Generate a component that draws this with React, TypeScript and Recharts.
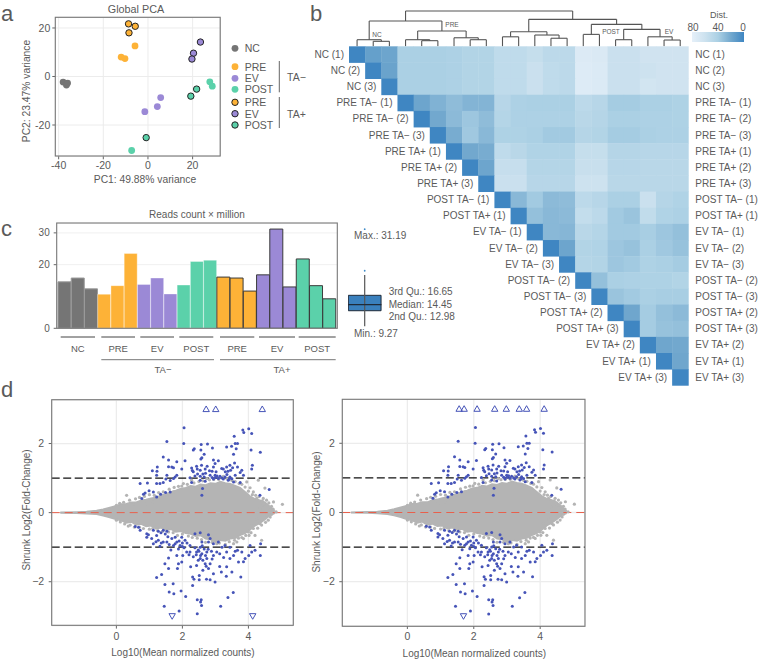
import React from 'react'
import {
  Area,
  Bar,
  BarChart,
  CartesianGrid,
  Cell,
  ComposedChart,
  ReferenceArea,
  ReferenceLine,
  Scatter,
  ScatterChart,
  XAxis,
  YAxis,
} from 'recharts'

const FONT = '"Liberation Sans", Arial, sans-serif'
const INK = '#5a5a5a'
const GRID = '#ececec'
const COLORS: Record<string, string> = { NC: '#757575', PRE: '#fdb237', EV: '#9b89d6', POST: '#5bd1aa' }
const BLUE = '#4654b8'

// a: PCA
const pcaNC = [[-38, -2.3], [-36.5, -3.5], [-36, -2.7]]
const pcaPreMinus = [[-12, 8], [-10.3, 7.4], [-5.8, 12.6]]
const pcaEvMinus = [[-1.4, -14.5], [4.2, -12.4], [5.7, -8.7]]
const pcaPostMinus = [[-7.3, -30.5], [27.7, -2.2], [28.8, -4]]
const pcaPrePlus = [[-8.7, 21.7], [-5.7, 20.7], [-8.5, 18]]
const pcaEvPlus = [[23.5, 14.2], [20.4, 9.6], [19.7, 7.2]]
const pcaPostPlus = [[-0.8, -25.2], [21.8, -5.2], [19.2, -8.1]]

// b: distance heatmap, upper triangle, one row per sample
const sampleLabels = [
  'NC (1)', 'NC (2)', 'NC (3)',
  'PRE TA− (1)', 'PRE TA− (2)', 'PRE TA− (3)',
  'PRE TA+ (1)', 'PRE TA+ (2)', 'PRE TA+ (3)',
  'POST TA− (1)', 'POST TA+ (1)',
  'EV TA− (1)', 'EV TA− (2)', 'EV TA− (3)',
  'POST TA− (2)', 'POST TA− (3)',
  'POST TA+ (2)', 'POST TA+ (3)',
  'EV TA+ (2)', 'EV TA+ (1)', 'EV TA+ (3)',
]
const distances = [
  [0, 15, 18, 40, 40, 40, 41, 44, 44, 52, 52, 55, 50, 50, 72, 70, 58, 58, 62, 62, 62],
  [0, 17, 40, 40, 40, 41, 44, 44, 52, 52, 58, 52, 50, 73, 71, 58, 58, 60, 62, 62],
  [0, 40, 40, 40, 41, 44, 44, 52, 52, 58, 52, 50, 73, 71, 58, 58, 64, 62, 62],
  [0, 18, 25, 30, 26, 26, 47, 41, 40, 40, 40, 50, 47, 38, 38, 40, 40, 42],
  [0, 20, 29, 35, 30, 45, 41, 41, 41, 41, 48, 46, 40, 40, 41, 41, 42],
  [0, 22, 36, 28, 42, 42, 40, 37, 37, 46, 44, 38, 38, 40, 41, 41],
  [0, 20, 22, 52, 48, 43, 43, 43, 55, 55, 46, 46, 47, 47, 47],
  [0, 18, 56, 56, 45, 45, 45, 57, 57, 47, 47, 48, 48, 48],
  [0, 58, 58, 47, 47, 47, 60, 60, 48, 48, 48, 48, 48],
  [0, 28, 37, 29, 30, 50, 47, 40, 40, 58, 46, 43],
  [0, 32, 28, 29, 54, 50, 37, 34, 53, 43, 41],
  [0, 28, 27, 48, 45, 37, 37, 39, 35, 32],
  [0, 18, 44, 43, 35, 33, 40, 36, 33],
  [0, 45, 44, 35, 37, 42, 40, 38],
  [0, 32, 40, 41, 42, 42, 44],
  [0, 34, 37, 40, 39, 39],
  [0, 19, 38, 32, 29],
  [0, 38, 33, 32],
  [0, 19, 20],
  [0, 19],
  [0],
]
// nested [left, right, height]; a plain number is a leaf
const dendrogram = [
  [[0, [1, 2, 0.31], 0.41], [[3, [4, 5, 0.35], 0.41], [6, [7, 8, 0.41], 0.53], 0.95], 1.57],
  [
    [[9, 10, 0.59], [11, [12, 13, 0.5], 0.7], 0.9],
    [[14, 15, 0.74], [[16, 17, 0.41], [18, [19, 20, 0.39], 0.59], 1.05], 1.36],
    1.67,
  ],
  2.19,
]

// c: reads
const readGroups = [
  'NC', 'NC', 'NC', 'PRE', 'PRE', 'PRE', 'EV', 'EV', 'EV', 'POST', 'POST', 'POST',
  'PRE', 'PRE', 'PRE', 'EV', 'EV', 'EV', 'POST', 'POST', 'POST',
]
const readValues = [
  14.6, 15.8, 12.4, 10.7, 13.4, 23.5, 13.8, 15.8, 10.8, 13.6, 21, 21.4,
  16.1, 15.8, 11.7, 16.8, 31.19, 13, 21.8, 13.4, 9.27,
]
const boxStats = { min: 9.27, q1: 12.98, median: 14.45, q3: 16.65, whisker: 21.5 }
const boxOutliers = [22.5, 32.4]

// d: MA plots, shared gene cloud: [x, lower, upper] outline of the dense part
const cloudOutline = [
  [-1.7, -0.01, 0.01], [-1.2, -0.015, 0.02], [-0.9, -0.03, 0.03], [-0.6, -0.05, 0.06], [-0.4, -0.09, 0.1],
  [-0.2, -0.14, 0.15], [0, -0.2, 0.2], [0.15, -0.23, 0.25], [0.3, -0.3, 0.26], [0.45, -0.27, 0.3],
  [0.6, -0.36, 0.3], [0.75, -0.33, 0.36], [0.9, -0.4, 0.38], [1.05, -0.38, 0.42], [1.2, -0.47, 0.44],
  [1.35, -0.44, 0.5], [1.5, -0.5, 0.54], [1.65, -0.48, 0.6], [1.8, -0.56, 0.64], [1.95, -0.54, 0.7],
  [2.1, -0.6, 0.72], [2.25, -0.62, 0.78], [2.4, -0.68, 0.76], [2.55, -0.66, 0.82], [2.7, -0.76, 0.8],
  [2.85, -0.78, 0.86], [3, -0.86, 0.84], [3.15, -0.8, 0.9], [3.3, -0.82, 0.86], [3.45, -0.76, 0.84],
  [3.6, -0.74, 0.78], [3.75, -0.66, 0.72], [3.9, -0.6, 0.6], [4.05, -0.5, 0.48], [4.2, -0.38, 0.4],
  [4.35, -0.3, 0.36], [4.5, -0.2, 0.3], [4.65, -0.08, 0.18], [4.8, -0.02, 0.04],
]
const greyGenes = [
  [5.03, 0.24], [4.84, 0.02], [4.76, 0.31], [4.5, 0.71], [4.3, 0.94], [3.95, 0.89], [0.31, 0.5], [0.36, -0.39],
  [4.35, 0.12], [4.66, 0.07], [4.55, 0.21], [4.45, 0.41], [4.25, 0.41], [4.66, -0.13], [4.6, -0.22], [4.5, -0.08],
  [4.15, -0.46], [4.2, -0.66], [4, -0.56], [4.4, -0.8], [4.1, -0.32], [4.35, -0.32], [3.85, -0.75], [3.65, -0.85],
  [3.55, -0.9], [3.04, -0.9], [2.28, 0.94], [2.03, 0.84], [1.98, 0.77], [2.74, 0.98], [3.24, 1.05], [1.53, 0.5],
  [1.73, 0.6], [1.12, 0.31], [0.92, 0.26], [0.52, 0.26], [0.62, -0.22], [0, 0.21], [0, -0.22], [3.6, 0.9],
  [3.8, 0.82], [4.05, 0.72], [4.15, 0.6], [3.35, 0.98], [2.95, 0.96], [2.5, 0.9], [3.3, -0.92], [3.8, -0.72],
  [4.02, -0.66], [2.7, -0.86], [2.3, -0.72], [1.85, -0.66], [1.4, -0.54], [1.0, -0.48], [0.7, -0.42],
  [0.1, 0.27], [0.22, 0.3], [0.4, 0.36], [0.58, 0.4], [0.7, 0.44], [0.85, 0.47], [1.0, 0.52], [1.15, 0.5], [1.28, 0.58],
  [1.42, 0.6], [1.6, 0.68], [1.75, 0.73], [1.88, 0.76], [2.15, 0.82], [2.35, 0.86], [2.62, 0.92], [2.82, 0.95],
  [3.1, 0.96], [3.5, 0.93], [3.72, 0.84], [3.9, 0.74], [4.0, 0.62], [4.12, 0.52], [4.22, 0.5], [4.32, 0.46], [4.42, 0.34],
  [4.55, 0.36], [4.62, 0.28], [4.7, 0.18], [4.4, 0.2], [4.75, 0.1], [0.12, -0.27], [0.25, -0.33], [0.42, -0.36],
  [0.55, -0.42], [0.82, -0.46], [1.1, -0.46], [1.25, -0.52], [1.58, -0.56], [1.72, -0.58], [2.0, -0.62], [2.18, -0.68],
  [2.45, -0.74], [2.58, -0.78], [2.9, -0.86], [3.12, -0.88], [3.42, -0.84], [3.58, -0.8], [3.7, -0.74], [3.92, -0.66],
  [4.08, -0.58], [4.28, -0.45], [4.4, -0.36], [4.52, -0.28], [4.25, -0.18], [4.7, -0.05],
]
const blueGenes = [
  [2.05, 2.46], [1.53, 2.06], [2.04, 2], [1.42, 1.61], [1.58, 1.52], [1.68, 1.32], [1.58, 1.33], [1.73, 1.3],
  [1.83, 1.47], [2.08, 1.5], [1.98, 1.26], [1.78, 1.03], [1.24, 1.32], [1.09, 1.21], [1.23, 1.2], [1.22, 1.08],
  [1.53, 1.08], [1.83, 1.08], [1.73, 0.99], [1.63, 0.93], [1.5, 0.97], [1.42, 0.87], [1.32, 0.84], [1.22, 0.84],
  [0.94, 0.86], [0.72, 0.84], [0.87, 0.57], [0.82, 0.53], [0.99, 0.63], [1.12, 0.6], [1.34, 0.53], [1.49, 0.58],
  [1.63, 0.6], [1.22, 0.45], [0.77, 0.41], [2.33, 1.81], [2.36, 1.85], [2.57, 1.97], [2.76, 1.99], [2.91, 1.87],
  [2.56, 1.81], [2.59, 1.59], [2.66, 1.69], [2.56, 1.55], [2.94, 1.52], [3.09, 1.5], [2.99, 1.42], [2.94, 1.32],
  [3.19, 1.28], [2.28, 1.29], [2.43, 1.34], [2.58, 1.37], [2.33, 1.18], [2.54, 1.23], [2.69, 1.26], [2.82, 1.21],
  [2.23, 1.01], [2.38, 1.06], [2.54, 1.05], [2.66, 1.03], [2.84, 1.08], [2.99, 1.08], [3.14, 1.05], [3.29, 1.03],
  [3.44, 1.03], [3.6, 1.08], [2.54, 0.94], [2.69, 0.91], [2.94, 0.97], [3.09, 0.99], [3.24, 0.97], [3.39, 0.94],
  [3.55, 0.89], [3.75, 0.87], [2.28, 0.87], [2.61, 0.7], [2.59, 0.5], [3.34, 1.9], [3.49, 1.92], [3.6, 2],
  [3.67, 2], [3.63, 1.85], [3.57, 2.21], [3.55, 1.69], [3.83, 2.39], [3.86, 2.32], [4.01, 2.43], [4.1, 2.29],
  [4.08, 1.81], [4.36, 1.75], [4.12, 1.37], [4.1, 1.26], [3.8, 1.23], [3.85, 1.08], [3.44, 1.37], [3.58, 1.44],
  [3.34, 1.32], [3.24, 1.26], [3.46, 1.23], [3.67, 1.32], [3.75, 1.16], [4.63, 0.67], [4.35, 0.5],
  [2.9, 1.02], [3.0, 1.02], [3.05, 1.06], [3.2, 1.0], [3.35, 1.1], [3.5, 0.98], [3.38, 1.2], [3.52, 1.3], [3.3, 1.18],
  [2.46, 1.12], [2.62, 1.12], [2.7, 1.14], [2.45, 1.26], [2.3, 1.22], [2.75, 1.34], [2.9, 1.2], [3.02, 1.18], [3.42, 0.97],
  [0.57, -0.4], [0.67, -0.42], [0.72, -0.51], [0.92, -0.61], [0.97, -0.64], [1.12, -0.51], [1.27, -0.54], [1.42, -0.51],
  [1.53, -0.54], [1.07, -0.75], [1.27, -0.8], [1.42, -0.85], [1.53, -0.85], [1.68, -0.75], [1.78, -0.71], [1.98, -0.71],
  [2.08, -0.8], [1.83, -0.85], [1.73, -0.95], [1.93, -0.95], [1.22, -0.66], [1.32, -0.97], [1.12, -0.9], [0.92, -0.71],
  [1.58, -1.31], [1.98, -1.43], [1.88, -1.48], [1.85, -1.62], [1.58, -1.62], [1.47, -1.48], [1.37, -1.79], [1.22, -1.88],
  [2.01, -1.24], [2.13, -1.14], [1.83, -1.24], [1.47, -2.08], [1.72, -2.06], [1.6, -2.3], [1.74, -2.35], [1.96, -2.27],
  [2.1, -2.43], [1.45, -2.71], [1.9, -2.85], [2.45, -2.93], [2.45, -2.52], [2.57, -2.52], [2.55, -2.59], [2.58, -2.69],
  [3.16, -2.71], [3.38, -2.46], [3.54, -2.31], [2.31, -1.86], [2.35, -1.93], [2.51, -1.82], [2.51, -1.94], [2.31, -2.11],
  [2.73, -1.93], [2.84, -1.94], [2.99, -2.01], [3.77, -1.86], [3.33, -1.84], [3.18, -1.72], [2.94, -1.77], [2.25, -1.57],
  [2.43, -1.53], [2.62, -1.67], [2.79, -1.62], [3.13, -1.56], [3.34, -1.57], [3.5, -1.72], [2.23, -0.95], [2.38, -1.02],
  [2.54, -1], [2.43, -1.14], [2.59, -1.19], [2.74, -1.14], [2.33, -1.28], [2.54, -1.33], [2.74, -1.33], [2.84, -1.48],
  [2.69, -1.48], [2.94, -0.9], [3.04, -1.14], [3.13, -1.19], [2.94, -1.24], [3.34, -1.14], [3.44, -1.33], [3.55, -1.24],
  [3.7, -1.43], [3.44, -1], [3.67, -1.09], [3.9, -1.33], [4.01, -1.24], [4.1, -1.14], [4.2, -1.09], [4.36, -1.24],
  [4.05, -0.95], [4.37, -0.9], [3.8, -1.14], [3.29, -0.95], [3.09, -0.85], [2.79, -0.85], [2.59, -0.85], [2.38, -0.61],
  [2.54, -0.58], [2.79, -0.64], [2.84, -0.75], [2.23, -1.14], [2.62, -1.38], [2.48, -1.08], [2.66, -1.05], [2.88, -1.12],
  [2.2, -1.22], [2.42, -1.22], [1.65, -1.08], [2.0, -0.98], [2.14, -0.88],
  [1.35, -0.58], [1.48, -0.62], [1.56, -0.7], [1.2, -0.84], [1.36, -0.88], [1.6, -0.92], [1.78, -0.9], [1.9, -0.82],
  [2.0, -0.88], [2.05, -1.02], [1.88, -1.05], [2.5, -1.12], [2.55, -1.24], [2.7, -1.24], [2.78, -1.06], [2.6, -0.96],
  [2.9, -1.34], [2.72, -1.55], [2.48, -1.38], [3.2, -1.0], [3.25, -1.3], [3.6, -1.12], [3.85, -1.42],
]
const upLeft = [2.72, 3.01, 4.42]
const downLeft = [1.69, 4.13]
const upRight = [1.56, 1.71, 2.1, 2.63, 2.98, 3.37, 3.59, 4.12]
const downRight = [1.69]

const CELL = 16.16
const tickStyle = { fontSize: 10.5, fill: INK, fontFamily: FONT }

function heatColor(d: number) {
  const stops = [
    [0, 63, 134, 194],
    [20, 114, 168, 206],
    [40, 171, 208, 228],
    [60, 205, 226, 239],
    [80, 230, 240, 249],
  ]
  for (let i = 1; i < stops.length; i++) {
    if (d <= stops[i][0]) {
      const a = stops[i - 1]
      const b = stops[i]
      const t = (d - a[0]) / (b[0] - a[0])
      return `rgb(${[1, 2, 3].map((k) => Math.round(a[k] + (b[k] - a[k]) * t)).join(',')})`
    }
  }
  return 'rgb(230,240,249)'
}

const xy = (pts: number[][]) => pts.map(([x, y]) => ({ x, y }))

function PcaDots({ pts, color, ring }: { pts: number[][]; color: string; ring?: boolean }) {
  return (
    <Scatter
      data={xy(pts)}
      fill={color}
      isAnimationActive={false}
      shape={(p: any) => (
        <circle cx={p.cx} cy={p.cy} r={ring ? 3.2 : 3.4} fill={color} stroke={ring ? '#222' : 'none'} strokeWidth={1} />
      )}
    />
  )
}

function PcaChart() {
  return (
    <div style={{ position: 'absolute', left: 0, top: 0 }}>
      <ScatterChart width={226} height={175} margin={{ top: 17.3, right: 5.7, bottom: 0, left: 0 }}>
        <CartesianGrid stroke={GRID} />
        <XAxis type="number" dataKey="x" domain={[-41.5, 32.4]} ticks={[-40, -20, 0, 20]} tick={tickStyle} height={18.7} tickSize={3} tickMargin={2} stroke="#666" axisLine={false} />
        <YAxis type="number" dataKey="y" domain={[-32.9, 24.4]} ticks={[-20, 0, 20]} tick={tickStyle} width={55.3} tickSize={3} tickMargin={2} stroke="#666" axisLine={false} />
        <PcaDots pts={pcaNC} color={COLORS.NC} />
        <PcaDots pts={pcaPreMinus} color={COLORS.PRE} />
        <PcaDots pts={pcaEvMinus} color={COLORS.EV} />
        <PcaDots pts={pcaPostMinus} color={COLORS.POST} />
        <PcaDots pts={pcaPrePlus} color={COLORS.PRE} ring />
        <PcaDots pts={pcaEvPlus} color={COLORS.EV} ring />
        <PcaDots pts={pcaPostPlus} color={COLORS.POST} ring />
      </ScatterChart>
    </div>
  )
}

function dendroLines(node: any, out: number[][]): { x: number; h: number } {
  if (typeof node === 'number') return { x: node + 0.5, h: 0 }
  const a = dendroLines(node[0], out)
  const b = dendroLines(node[1], out)
  const h = node[2]
  out.push([a.x, a.h, a.x, h], [b.x, b.h, b.x, h], [a.x, h, b.x, h])
  return { x: (a.x + b.x) / 2, h }
}

function HeatmapChart() {
  const cells = distances.flatMap((row, r) =>
    row.map((d, k) => ({ x: r + k + 0.5, y: r + 0.5, d, diag: k === 0, label: sampleLabels[r] })),
  )
  const segs: number[][] = []
  dendroLines(dendrogram, segs)
  return (
    <div style={{ position: 'absolute', left: 300, top: 0 }}>
      <ScatterChart width={458} height={390} margin={{ top: 5, right: 0, bottom: 4.7, left: 49 }}>
        <XAxis type="number" dataKey="x" domain={[0, 21]} hide />
        <YAxis
          type="number"
          dataKey="y"
          orientation="right"
          reversed
          domain={[-2.56, 21]}
          ticks={sampleLabels.map((_, i) => i + 0.5)}
          interval={0}
          tick={(t: any) => (
            <text x={t.x} y={t.y} dy={3.5} fontSize={10} fontFamily={FONT} fill={INK}>
              {sampleLabels[Math.floor(t.payload.value)]}
            </text>
          )}
          width={69.7}
          axisLine={false}
          tickLine={false}
          tickSize={0}
          tickMargin={7}
        />
        {segs.map(([x1, h1, x2, h2], i) => (
          <ReferenceLine
            key={i}
            segment={[{ x: x1, y: -h1 }, { x: x2, y: -h2 }]}
            stroke="#555"
            strokeWidth={1.1}
            ifOverflow="visible"
          />
        ))}
        <Scatter
          data={cells}
          isAnimationActive={false}
          shape={(p: any) => (
            <g>
              <rect
                x={p.cx - CELL / 2}
                y={p.cy - CELL / 2}
                width={CELL + 0.4}
                height={CELL + 0.4}
                fill={heatColor(p.payload.d)}
              />
              {p.payload.diag && (
                <text x={p.cx - CELL / 2 - 5} y={p.cy + 3.5} textAnchor="end" fontSize={10} fontFamily={FONT} fill={INK}>
                  {p.payload.label}
                </text>
              )}
            </g>
          )}
        />
      </ScatterChart>
    </div>
  )
}

function ReadsChart() {
  const data = readValues.map((reads, i) => ({ name: `${readGroups[i]}${i}`, reads }))
  return (
    <div style={{ position: 'absolute', left: 0, top: 223 }}>
      <BarChart width={337.3} height={111.3} data={data} margin={{ top: 0, right: 0, bottom: 6, left: 0 }} barCategoryGap={0}>
        <CartesianGrid stroke="#f0f0f0" vertical={false} />
        <XAxis dataKey="name" hide padding={{ left: 1.3, right: 1.3 }} />
        <YAxis type="number" domain={[0, 33.1]} ticks={[0, 20, 30]} tick={{ ...tickStyle, fontSize: 10 }} width={56.7} tickSize={3} tickMargin={4} stroke="#666" axisLine={false} allowDataOverflow />
        <Bar dataKey="reads" isAnimationActive={false}>
          {data.map((_, i) => (
            <Cell
              key={i}
              fill={COLORS[readGroups[i]]}
              stroke={i >= 12 ? '#3a3a3a' : i < 3 ? '#9a9a9a' : 'rgba(255,255,255,0.35)'}
              strokeWidth={1}
            />
          ))}
        </Bar>
      </BarChart>
    </div>
  )
}

function ReadsBox() {
  const { min, q1, median, q3, whisker } = boxStats
  return (
    <div style={{ position: 'absolute', left: 348.3, top: 225 }}>
      <ScatterChart width={33.4} height={110} margin={{ top: 0, right: 0, bottom: 0, left: 0 }}>
        <XAxis type="number" dataKey="x" domain={[0, 1]} hide />
        <YAxis type="number" dataKey="y" domain={[7.2, 33.4]} hide />
        <ReferenceLine segment={[{ x: 0.5, y: min }, { x: 0.5, y: whisker }]} stroke="#555" strokeWidth={1.2} />
        <ReferenceArea x1={0.01} x2={0.99} y1={q1} y2={q3} fill="#3a80bd" fillOpacity={1} stroke="#1f2a38" strokeWidth={1} />
        <ReferenceLine segment={[{ x: 0, y: median }, { x: 1, y: median }]} stroke="#1f2a38" strokeWidth={1.2} />
        <Scatter
          data={boxOutliers.map((y) => ({ x: 0.5, y }))}
          isAnimationActive={false}
          shape={(p: any) => <circle cx={p.cx} cy={p.cy} r={0.9} fill="#3e8bc8" />}
        />
      </ScatterChart>
    </div>
  )
}

function MAPlot(props: {
  left: number
  top: number
  yAxisW: number
  plotW: number
  plotH: number
  xDomain: number[]
  yDomain: number[]
  up: number[]
  down: number[]
}) {
  const { left, top, yAxisW, plotW, plotH, xDomain, yDomain, up, down } = props
  const triangle = (dir: number) => (p: any) => (
    <polygon
      points={`${p.cx - 3.2},${p.cy + 2.6 * dir} ${p.cx + 3.2},${p.cy + 2.6 * dir} ${p.cx},${p.cy - 3 * dir}`}
      fill="none"
      stroke={BLUE}
      strokeWidth={1}
    />
  )
  const dot = (color: string, r: number) => (p: any) => <circle cx={p.cx} cy={p.cy} r={r} fill={color} />
  return (
    <div style={{ position: 'absolute', left, top }}>
      <ComposedChart width={yAxisW + plotW} height={plotH + 20} margin={{ top: 0, right: 0, bottom: 0, left: 0 }}>
        <CartesianGrid stroke={GRID} strokeWidth={1.3} />
        <XAxis type="number" dataKey="x" domain={xDomain} ticks={[0, 2, 4]} tick={tickStyle} height={20} tickSize={3} tickMargin={4} stroke="#666" axisLine={false} allowDataOverflow />
        <YAxis
          type="number"
          domain={yDomain}
          ticks={[-2, 0, 2]}
          tickFormatter={(v: number) => (v < 0 ? `−${-v}` : `${v}`)}
          tick={tickStyle}
          width={yAxisW}
          tickSize={3}
          tickMargin={4.5}
          stroke="#666"
          axisLine={false}
          allowDataOverflow
        />
        <Area
          data={cloudOutline.map(([x, lo, hi]) => ({ x, band: [lo, hi] }))}
          dataKey="band"
          fill="#b4b4b4"
          fillOpacity={1}
          stroke="#b4b4b4"
          strokeWidth={1.5}
          dot={false}
          isAnimationActive={false}
        />
        <Scatter data={xy(greyGenes)} dataKey="y" isAnimationActive={false} shape={dot('#b4b4b4', 1.6)} />
        <Scatter data={xy(blueGenes)} dataKey="y" isAnimationActive={false} shape={dot(BLUE, 1.5)} />
        <Scatter data={up.map((x) => ({ x, y: 3 }))} dataKey="y" isAnimationActive={false} shape={triangle(1)} />
        <Scatter data={down.map((x) => ({ x, y: -3 }))} dataKey="y" isAnimationActive={false} shape={triangle(-1)} />
        <ReferenceLine y={1} stroke="#111" strokeDasharray="8 3.5" strokeWidth={1.1} />
        <ReferenceLine y={-1} stroke="#111" strokeDasharray="8 3.5" strokeWidth={1.1} />
        <ReferenceLine y={0} stroke="#e8604c" strokeDasharray="8 5" strokeWidth={1} />
      </ComposedChart>
    </div>
  )
}

const frames = [
  [55.3, 17.3, 164.9, 138.7],
  [56.7, 223, 280.6, 105.3],
  [51.7, 399.7, 241.6, 225.6],
  [342.3, 399.3, 242.7, 227],
]
const pcaLegend: [string, string, boolean, number][] = [
  ['NC', COLORS.NC, false, 48.3],
  ['PRE', COLORS.PRE, false, 66.7],
  ['EV', COLORS.EV, false, 78.3],
  ['POST', COLORS.POST, false, 89.3],
  ['PRE', COLORS.PRE, true, 102.3],
  ['EV', COLORS.EV, true, 113.7],
  ['POST', COLORS.POST, true, 125],
]
const groupBrackets: [string, number, number][] = [
  ['NC', 60.7, 95], ['PRE', 101.3, 135], ['EV', 140.3, 174], ['POST', 179.3, 213.3],
  ['PRE', 220, 254.3], ['EV', 259, 295], ['POST', 298.7, 335.7],
]
const boxNotes: [string, number, number][] = [
  ['Max.: 31.19', 354, 239],
  ['3rd Qu.: 16.65', 388.7, 295],
  ['Median: 14.45', 388.7, 308],
  ['2nd Qu.: 12.98', 388.7, 319.5],
  ['Min.: 9.27', 354, 336.5],
]

function T(props: any) {
  return <text fontFamily={FONT} fontSize={10} fill={INK} {...props} />
}

function Overlay() {
  return (
    <svg width={758} height={659} style={{ position: 'absolute', left: 0, top: 0, pointerEvents: 'none' }}>
      <defs>
        <linearGradient id="distRamp" x1="0" x2="1" y1="0" y2="0">
          {[80, 60, 40, 20, 0].map((d) => (
            <stop key={d} offset={`${(80 - d) / 0.8}%`} stopColor={heatColor(d)} />
          ))}
        </linearGradient>
      </defs>
      {frames.map(([x, y, w, h], i) => (
        <rect key={i} x={x} y={y} width={w} height={h} fill="none" stroke="#777" strokeWidth={1.1} />
      ))}

      <T x={1} y={20.5} fontSize={22}>a</T>
      <T x={310} y={20.5} fontSize={22}>b</T>
      <T x={1} y={236} fontSize={22}>c</T>
      <T x={1} y={397} fontSize={22}>d</T>

      <T x={136} y={13} textAnchor="middle" fontSize={10.8}>Global PCA</T>
      <T x={145} y={182.5} textAnchor="middle" fontSize={10.3}>PC1: 49.88% variance</T>
      <T x={29.5} y={91} textAnchor="middle" fontSize={10.3} transform="rotate(-90 29.5 91)">PC2: 23.47% variance</T>
      {pcaLegend.map(([name, color, ring, y], i) => (
        <g key={i}>
          <circle cx={235} cy={y} r={ring ? 3.2 : 3.4} fill={color} stroke={ring ? '#222' : 'none'} />
          <T x={244.7} y={y + 3.8} fontSize={10.5}>{name}</T>
        </g>
      ))}
      <line x1={279.3} x2={279.3} y1={61} y2={92.3} stroke="#666" />
      <line x1={279.3} x2={279.3} y1={97} y2={128} stroke="#666" />
      <T x={287} y={81} fontSize={10.5}>TA−</T>
      <T x={287} y={117.5} fontSize={10.5}>TA+</T>

      <T x={719} y={18} textAnchor="middle" fontSize={9}>Dist.</T>
      <T x={693} y={31} textAnchor="middle">80</T>
      <T x={718} y={31} textAnchor="middle">40</T>
      <T x={743} y={31} textAnchor="middle">0</T>
      <rect x={692} y={32} width={52} height={10} fill="url(#distRamp)" />
      <T x={377} y={36.5} textAnchor="middle" fontSize={6.5}>NC</T>
      <T x={452} y={27} textAnchor="middle" fontSize={6.5}>PRE</T>
      <T x={611} y={33.5} textAnchor="middle" fontSize={6.5}>POST</T>
      <T x={669} y={33.5} textAnchor="middle" fontSize={6.5}>EV</T>

      <T x={197} y={218} textAnchor="middle">Reads count × million</T>
      {groupBrackets.map(([name, x1, x2], i) => (
        <g key={i}>
          <line x1={x1} x2={x2} y1={337} y2={337} stroke="#444" />
          <T x={(x1 + x2) / 2} y={352} textAnchor="middle" fontSize={9.5}>{name}</T>
        </g>
      ))}
      <line x1={101.3} x2={214} y1={359.7} y2={359.7} stroke="#777" />
      <line x1={220} x2={335.7} y1={359.7} y2={359.7} stroke="#777" />
      <T x={163} y={372.5} textAnchor="middle" fontSize={9.5}>TA−</T>
      <T x={282} y={372.5} textAnchor="middle" fontSize={9.5}>TA+</T>
      {boxNotes.map(([s, x, y]) => (
        <T key={s} x={x} y={y}>{s}</T>
      ))}

      <T x={29.5} y={510} textAnchor="middle" transform="rotate(-90 29.5 510)">Shrunk Log2(Fold-Change)</T>
      <T x={183} y={655.5} textAnchor="middle">Log10(Mean normalized counts)</T>
      <T x={320} y={512} textAnchor="middle" transform="rotate(-90 320 512)">Shrunk Log2(Fold-Change)</T>
      <T x={474.3} y={657} textAnchor="middle">Log10(Mean normalized counts)</T>
    </svg>
  )
}

export default function App() {
  return (
    <div style={{ position: 'absolute', left: 0, top: 0, width: 758, height: 659, background: '#fff', fontFamily: FONT }}>
      <PcaChart />
      <HeatmapChart />
      <ReadsChart />
      <ReadsBox />
      <MAPlot left={0} top={399.7} yAxisW={51.7} plotW={241.6} plotH={225.6} xDomain={[-1.96, 5.36]} yDomain={[-3.27, 3.26]} up={upLeft} down={downLeft} />
      <MAPlot left={300} top={399.3} yAxisW={42.3} plotW={242.7} plotH={227} xDomain={[-1.96, 5.35]} yDomain={[-3.28, 3.28]} up={upRight} down={downRight} />
      <Overlay />
    </div>
  )
}
